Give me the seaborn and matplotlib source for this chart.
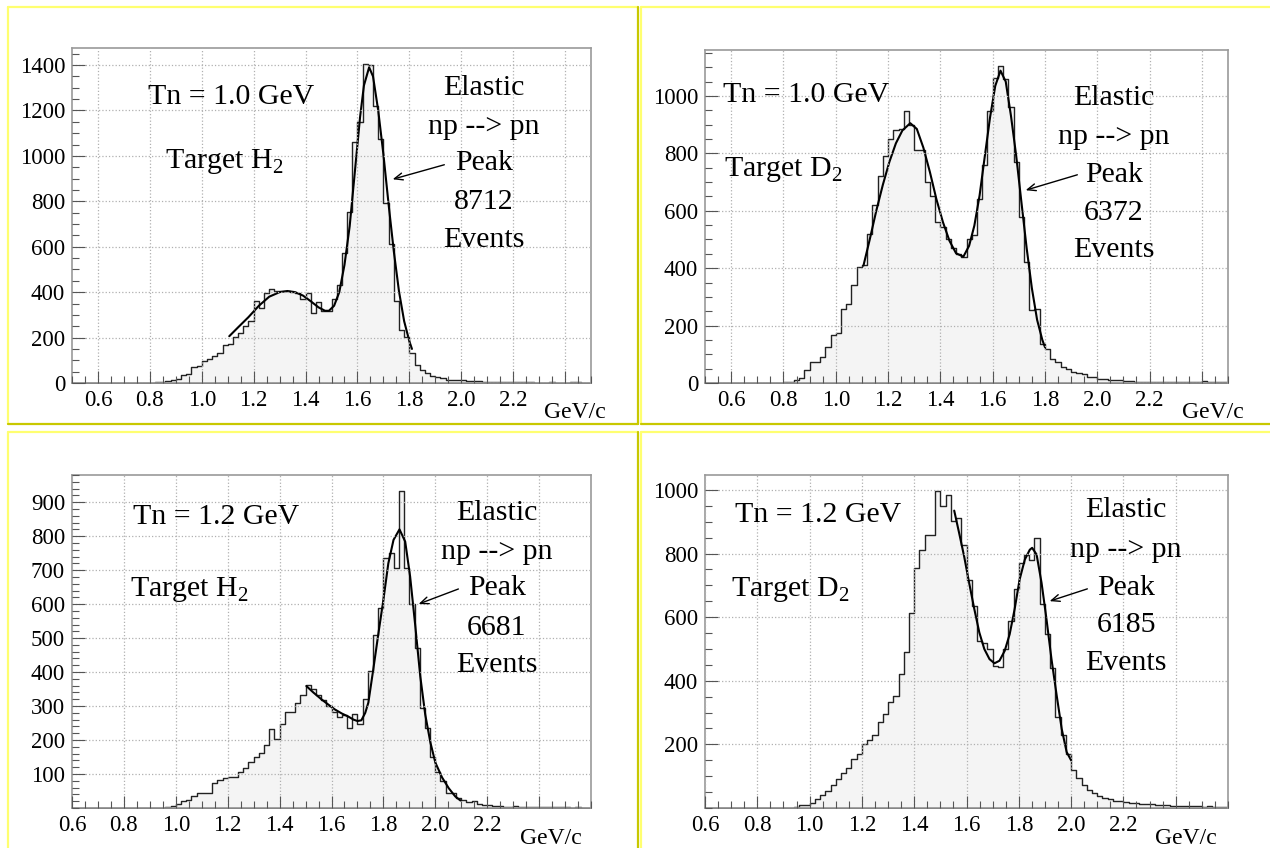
import numpy as np
import pandas as pd
import matplotlib
matplotlib.use('Agg')
import matplotlib.pyplot as plt
from matplotlib.lines import Line2D
from matplotlib.ticker import MultipleLocator, FixedLocator
import seaborn as sns

sns.set_style('white')
plt.rcParams['font.family'] = ['Liberation Serif', 'DejaVu Serif']
plt.rcParams['mathtext.fontset'] = 'custom'
plt.rcParams['mathtext.rm'] = 'Liberation Serif'
plt.rcParams['text.color'] = 'black'

W, H = 1270, 848
BIN = 0.02  # GeV/c per bin

# --- data: counts per 0.02 GeV/c bin (top row from 0.5, bottom row from 0.6) ---
h2_10_counts = [0] * 15 + [
    2, 3, 4, 7, 15, 18, 37, 40, 69, 74,
    96, 106, 118, 132, 169, 172, 201, 220, 250, 272,
    362, 331, 397, 412, 404, 404, 404, 400, 398, 372,
    397, 308, 355, 318, 318, 370, 430, 571, 754, 1059,
    1151, 1405, 1400, 1220, 1073, 794, 610, 360, 235, 201,
    132, 81, 59, 44, 30, 28, 20, 15, 12, 12,
    12, 10, 10, 8, 6, 5, 5, 4, 5, 4,
    3, 3, 3, 3, 2, 2, 2, 3, 2, 2,
    2, 3, 4, 2, 1]
h2_10_fit_x = [1.106, 1.14, 1.18, 1.22, 1.26, 1.30, 1.33, 1.36, 1.39, 1.42, 1.45, 1.475,
               1.49, 1.51, 1.53, 1.55, 1.57, 1.59, 1.61, 1.625, 1.645, 1.66, 1.68, 1.70,
               1.72, 1.74, 1.76, 1.78, 1.80, 1.81]
h2_10_fit_y = [206, 245, 290, 340, 380, 400, 405, 400, 385, 360, 333, 318,
               318, 340, 400, 520, 690, 930, 1170, 1310, 1390, 1350, 1200, 1007,
               787, 581, 404, 272, 184, 150]

d2_10_counts = [0] * 15 + [
    2, 4, 12, 16, 44, 73, 73, 92, 125, 168,
    174, 259, 275, 340, 404, 410, 520, 620, 720, 790,
    850, 880, 885, 948, 900, 810, 812, 700, 650, 560,
    545, 500, 470, 448, 438, 500, 515, 640, 760, 948,
    1064, 1105, 1058, 960, 770, 577, 420, 255, 258, 137,
    120, 85, 73, 55, 48, 40, 35, 30, 20, 20,
    15, 14, 12, 10, 10, 7, 6, 5, 5, 4,
    5, 4, 3, 3, 2, 2, 3, 3, 2, 3,
    6, 5, 3, 2, 2]
d2_10_fit_x = [1.106, 1.13, 1.155, 1.18, 1.205, 1.23, 1.255, 1.285, 1.31, 1.335, 1.36,
               1.385, 1.41, 1.435, 1.46, 1.488, 1.51, 1.53, 1.55, 1.57, 1.59, 1.61,
               1.63, 1.65, 1.67, 1.69, 1.71, 1.73, 1.75, 1.77, 1.79, 1.80]
d2_10_fit_y = [409, 500, 600, 690, 770, 835, 880, 905, 885, 820, 735,
               640, 560, 495, 452, 440, 478, 548, 653, 790, 925, 1035,
               1088, 1050, 931, 792, 630, 470, 330, 220, 150, 125]

h2_12_counts = [0] * 18 + [
    3, 5, 12, 20, 24, 36, 44, 44, 44, 75,
    82, 88, 90, 92, 105, 119, 134, 149, 163, 186,
    232, 202, 246, 283, 283, 310, 334, 362, 349, 334,
    317, 300, 283, 268, 275, 235, 278, 246, 322, 403,
    510, 590, 735, 750, 706, 934, 706, 600, 470, 295,
    235, 150, 105, 80, 45, 45, 30, 25, 18, 20,
    12, 10, 8, 6, 6, 4, 4, 5, 3, 2,
    3, 2, 2, 4, 2, 2, 3, 2, 1, 2,
    1, 1]
h2_12_fit_x = [1.503, 1.53, 1.561, 1.59, 1.613, 1.64, 1.665, 1.685, 1.70, 1.715, 1.73,
               1.742, 1.761, 1.781, 1.80, 1.819, 1.839, 1.862, 1.884, 1.903, 1.923,
               1.942, 1.961, 1.981, 2.0, 2.026, 2.052, 2.077, 2.097]
h2_12_fit_y = [359, 340, 320, 303, 290, 278, 269, 260, 256, 258, 280,
               310, 408, 515, 613, 720, 789, 820, 784, 681, 535,
               388, 276, 193, 134, 90, 58, 34, 22]

d2_12_counts = [0] * 17 + [
    3, 8, 10, 17, 27, 40, 52, 72, 90, 110,
    125, 155, 170, 200, 215, 228, 270, 295, 333, 353,
    421, 489, 614, 755, 812, 859, 857, 998, 950, 985,
    901, 911, 828, 718, 635, 525, 520, 500, 447, 442,
    500, 588, 687, 770, 797, 781, 849, 640, 546, 440,
    286, 228, 171, 120, 95, 72, 58, 48, 38, 30,
    27, 22, 22, 18, 16, 15, 14, 12, 12, 10,
    8, 8, 7, 6, 7, 5, 6, 5, 4, 5,
    3, 4, 3]
d2_12_fit_x = [1.553, 1.572, 1.591, 1.61, 1.63, 1.649, 1.668, 1.688, 1.707, 1.726, 1.746,
               1.765, 1.784, 1.803, 1.823, 1.842, 1.851, 1.868, 1.887, 1.906, 1.925,
               1.945, 1.964, 1.983, 2.0]
d2_12_fit_y = [935, 864, 791, 708, 625, 552, 500, 468, 455, 463, 494,
               546, 625, 718, 781, 812, 818, 797, 708, 593, 468,
               353, 249, 176, 150]

energies = ['Tn = 1.0 GeV', 'Tn = 1.0 GeV', 'Tn = 1.2 GeV', 'Tn = 1.2 GeV']
targets = ['Target H$_2$', 'Target D$_2$', 'Target H$_2$', 'Target D$_2$']
peak_events = ['8712', '6372', '6681', '6185']

fig = plt.figure(figsize=(W / 100, H / 100), dpi=100)
fig.patch.set_facecolor('white')


def fx(x):
    return x / W


def fy(y):
    return 1 - y / H


# pad borders (light top/left, dark bottom/right)
light, dark = '#ffff70', '#c8c800'
for (x1, y1, x2, y2, c) in [(8, 7, 638, 7, light), (8, 7, 8, 424, light), (8, 424, 638, 424, dark),
                            (638, 7, 638, 424, dark), (641, 7, 1270, 7, light), (641, 7, 641, 424, light),
                            (641, 424, 1270, 424, dark),
                            (8, 432, 638, 432, light), (8, 432, 8, 848, light), (638, 432, 638, 848, dark),
                            (641, 432, 1270, 432, light), (641, 432, 641, 848, light)]:
    fig.add_artist(Line2D([fx(x1), fx(x2)], [fy(y1), fy(y2)], color=c, lw=1.6))

panels = [
    dict(rect=(72, 48, 591, 383), x0=0.5, counts=h2_10_counts, fx_=h2_10_fit_x, fy_=h2_10_fit_y,
         ymax=1475, yt=np.arange(0, 1401, 200), ym=50,
         tn=(231, 97), tg=(224, 162), col=484, rows=(88, 127, 163, 202, 240),
         arrow=((447, 164), (390, 180)), gev=(575, 413)),
    dict(rect=(705, 50, 1228, 383), x0=0.5, counts=d2_10_counts, fx_=d2_10_fit_x, fy_=d2_10_fit_y,
         ymax=1160, yt=np.arange(0, 1001, 200), ym=50,
         tn=(806, 95), tg=(783, 170), col=1114, rows=(98, 137, 175, 213, 250),
         arrow=((1080, 174), (1023, 191)), gev=(1213, 413)),
    dict(rect=(72, 475, 591, 808), x0=0.6, counts=h2_12_counts, fx_=h2_12_fit_x, fy_=h2_12_fit_y,
         ymax=980, yt=np.arange(100, 901, 100), ym=20,
         tn=(216, 517), tg=(189, 590), col=497, rows=(513, 552, 588, 628, 665),
         arrow=((461, 588), (416, 605)), gev=(551, 838)),
    dict(rect=(705, 475, 1228, 808), x0=0.6, counts=d2_12_counts, fx_=d2_12_fit_x, fy_=d2_12_fit_y,
         ymax=1047, yt=np.arange(200, 1001, 200), ym=50,
         tn=(818, 515), tg=(790, 590), col=1126, rows=(510, 550, 588, 625, 663),
         arrow=((1090, 588), (1047, 602)), gev=(1186, 838)),
]

for i, p in enumerate(panels):
    l, t, r, b = p['rect']
    ax = fig.add_axes([fx(l), fy(b), (r - l) / W, (b - t) / H])
    counts = list(p['counts'])
    nbins = len(counts)
    df = pd.DataFrame({'p': [p['x0'] + BIN * (k + 0.5) for k in range(nbins)], 'n': counts})
    sns.histplot(data=df, x='p', weights='n', bins=nbins, binrange=(p['x0'], p['x0'] + BIN * nbins),
                 element='step', fill=True, facecolor='#f4f4f4', edgecolor='#222222',
                 linewidth=1.0, ax=ax)
    fit = pd.DataFrame({'p': p['fx_'], 'f': p['fy_']})
    sns.lineplot(data=fit, x='p', y='f', color='black', linewidth=1.5, errorbar=None, ax=ax)

    ax.set_xlim(p['x0'], p['x0'] + 2.0)
    ax.set_ylim(0, p['ymax'])
    ax.set_xlabel('')
    ax.set_ylabel('')

    xt = [0.6, 0.8, 1.0, 1.2, 1.4, 1.6, 1.8, 2.0, 2.2, 2.4]
    ax.xaxis.set_major_locator(FixedLocator(xt))
    ax.set_xticklabels(['%.1f' % v for v in xt[:-1]] + [''])
    ax.xaxis.set_minor_locator(MultipleLocator(0.05))
    ax.yaxis.set_major_locator(FixedLocator(p['yt']))
    ax.set_yticklabels([str(v) for v in p['yt']])
    ax.yaxis.set_minor_locator(MultipleLocator(p['ym']))

    ax.tick_params(which='both', direction='in', color='#555555', width=0.8,
                   bottom=True, left=True, top=False, right=False)
    ax.tick_params(which='major', length=9, labelsize=16.5, pad=5, labelcolor='black')
    ax.tick_params(which='minor', length=5)
    ax.grid(True, which='major', linestyle=':', color='#b0b0b0', linewidth=0.9)
    ax.set_axisbelow(False)
    for s in ax.spines.values():
        s.set_color('#9a9a9a')
        s.set_linewidth(1.2)

    fig.text(fx(p['tn'][0]), fy(p['tn'][1]), energies[i], fontsize=21.5, ha='center', va='center')
    fig.text(fx(p['tg'][0]), fy(p['tg'][1]), targets[i], fontsize=21.5, ha='center', va='center')
    for txt, yy in zip(['Elastic', 'np --> pn', 'Peak', peak_events[i], 'Events'], p['rows']):
        fig.text(fx(p['col']), fy(yy), txt, fontsize=21.5, ha='center', va='center')
    (tx, ty), (hx, hy) = p['arrow']
    ax.annotate('', xy=(fx(hx), fy(hy)), xytext=(fx(tx), fy(ty)),
                xycoords='figure fraction', textcoords='figure fraction',
                arrowprops=dict(arrowstyle='->,head_length=0.6,head_width=0.25', color='black', lw=1.0))
    fig.text(fx(p['gev'][0]), fy(p['gev'][1]), 'GeV/c', fontsize=17, ha='center', va='center')

fig.savefig('out.png', dpi=100)
